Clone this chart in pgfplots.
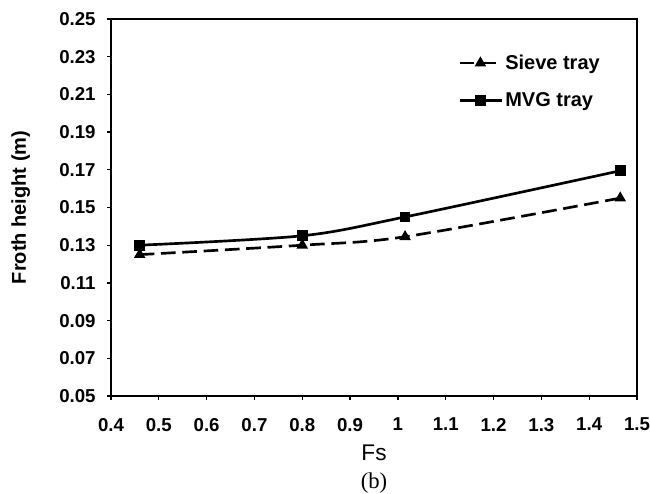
\documentclass[border=0pt]{standalone}
\usepackage{pgfplots}
\pgfplotsset{compat=1.18}
\usepackage{fontspec}
\setmainfont{Liberation Sans}
\newfontfamily\seriffont{Liberation Serif}
\begin{document}
\begin{tikzpicture}[x=0.75pt,y=0.75pt]
\path[use as bounding box] (-111,-97) rectangle (539,396);
\begin{axis}[
  scale only axis,
  width=394.5pt, height=282.75pt,
  xmin=0.4, xmax=1.5, ymin=0.05, ymax=0.25,
  xtick={0.4,0.5,0.6,0.7,0.8,0.9,1,1.1,1.2,1.3,1.4,1.5},
  ytick={0.05,0.07,0.09,0.11,0.13,0.15,0.17,0.19,0.21,0.23,0.25},
  tick align=outside, tick pos=left,
  major tick length=3pt,
  every tick/.style={black, line width=0.9pt},
  axis line style={line width=1.7pt},
  /pgf/number format/assume math mode=true,
  ticklabel style={font=\bfseries\fontsize{14}{16}\selectfont},
  yticklabel style={xshift=-5pt, /pgf/number format/.cd, fixed, fixed zerofill, precision=2},
  xticklabel style={yshift=-10pt, /pgf/number format/.cd, fixed, precision=1},
  xlabel={Fs},
  xlabel style={font=\fontsize{17}{19}\selectfont, yshift=-3pt},
  ylabel={Froth height (m)},
  ylabel style={font=\bfseries\fontsize{15}{17}\selectfont, yshift=15pt},
  legend style={draw=none, fill=none, at={(0.652,0.92)}, anchor=north west,
    font=\bfseries\fontsize{15}{17}\selectfont, row sep=12pt},
  legend cell align=left,
  legend image code/.code={\draw[mark repeat=2,mark phase=2,#1] plot coordinates {(0cm,0cm) (0.55cm,0cm) (1.1cm,0cm)};},
]
\addplot[black, line width=2pt, dash pattern=on 11pt off 5pt, smooth, tension=0.5,
  mark=triangle*, mark size=3pt, mark options={solid}]
  coordinates {(0.46,0.125) (0.80,0.130) (1.015,0.1345) (1.465,0.155)};
\addlegendentry{Sieve tray}
\addplot[black, line width=2pt, smooth, tension=0.5,
  mark=square*, mark size=3pt, mark options={solid}]
  coordinates {(0.46,0.130) (0.80,0.135) (1.015,0.145) (1.465,0.1695)};
\addlegendentry{MVG tray}
\end{axis}
\node[font=\seriffont\fontsize{17}{19}\selectfont] at (263,-87) {(b)};
\end{tikzpicture}
\end{document}
